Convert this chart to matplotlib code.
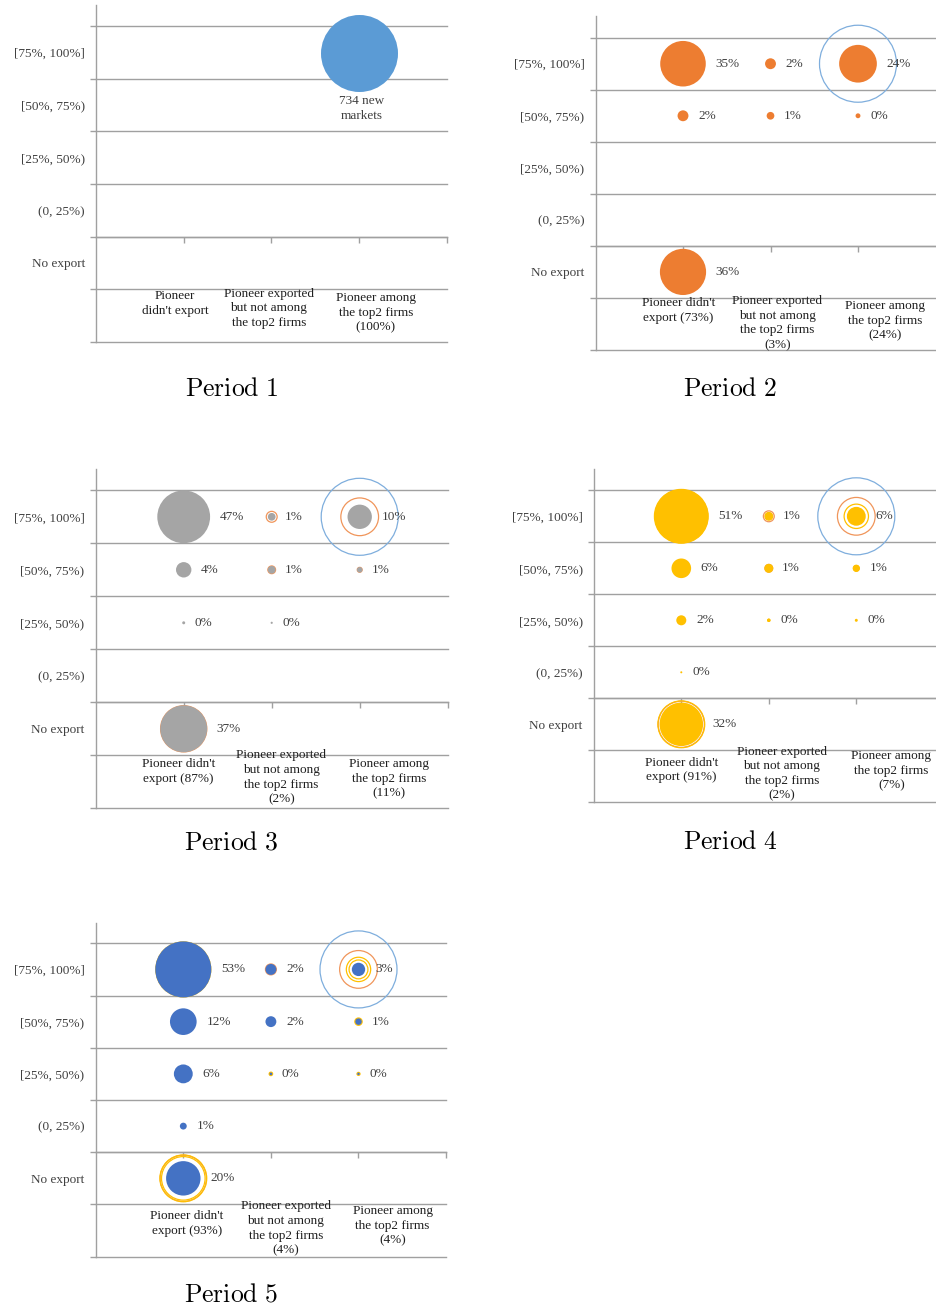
import numpy as np
import matplotlib
matplotlib.use('Agg')
import matplotlib.pyplot as plt

plt.rcParams['font.family'] = ['Liberation Serif', 'DejaVu Serif']
plt.rcParams['mathtext.fontset'] = 'cm'

W, H = 937, 1308

row_labels = ['No export', '(0, 25%)', '[25%, 50%)', '[50%, 75%)', '[75%, 100%]']

# column: 1 = pioneer didn't export, 2 = exported but not top2, 3 = among top2
# row: 0 = no export ... 4 = [75%, 100%]; value = share of markets in %
p1_col = [3]
p1_row = [4]
p1_val = [100]
p1_lab = ['734 new\nmarkets']

p2_col = [1, 1, 1, 2, 2, 3, 3]
p2_row = [4, 3, 0, 4, 3, 4, 3]
p2_val = [35, 2, 36, 2, 1, 24, 0.4]
p2_lab = ['35%', '2%', '36%', '2%', '1%', '24%', '0%']

p3_col = [1, 1, 1, 1, 2, 2, 2, 3, 3]
p3_row = [4, 3, 2, 0, 4, 3, 2, 4, 3]
p3_val = [47, 4, 0.15, 37, 1, 1, 0.08, 10, 0.5]
p3_lab = ['47%', '4%', '0%', '37%', '1%', '1%', '0%', '10%', '1%']

p4_col = [1, 1, 1, 1, 1, 2, 2, 2, 3, 3, 3]
p4_row = [4, 3, 2, 1, 0, 4, 3, 2, 4, 3, 2]
p4_val = [51, 6.5, 1.7, 0.07, 32, 1, 0.9, 0.2, 6, 0.9, 0.15]
p4_lab = ['51%', '6%', '2%', '0%', '32%', '1%', '1%', '0%', '6%', '1%', '0%']

p5_col = [1, 1, 1, 1, 1, 2, 2, 2, 3, 3, 3]
p5_row = [4, 3, 2, 1, 0, 4, 3, 2, 4, 3, 2]
p5_val = [53, 12, 6, 0.8, 20, 2, 2, 0.12, 3, 0.7, 0.1]
p5_lab = ['53%', '12%', '6%', '1%', '20%', '2%', '2%', '0%', '3%', '1%', '0%']

cat_p1 = ["Pioneer\ndidn't export", "Pioneer exported\nbut not among\nthe top2 firms",
          "Pioneer among\nthe top2 firms\n(100%)"]
cat_p2 = ["Pioneer didn't\nexport (73%)", "Pioneer exported\nbut not among\nthe top2 firms\n(3%)",
          "Pioneer among\nthe top2 firms\n(24%)"]
cat_p3 = ["Pioneer didn't\nexport (87%)", "Pioneer exported\nbut not among\nthe top2 firms\n(2%)",
          "Pioneer among\nthe top2 firms\n(11%)"]
cat_p4 = ["Pioneer didn't\nexport (91%)", "Pioneer exported\nbut not among\nthe top2 firms\n(2%)",
          "Pioneer among\nthe top2 firms\n(7%)"]
cat_p5 = ["Pioneer didn't\nexport (93%)", "Pioneer exported\nbut not among\nthe top2 firms\n(4%)",
          "Pioneer among\nthe top2 firms\n(4%)"]

periods = [
    (p1_col, p1_row, p1_val, p1_lab, cat_p1),
    (p2_col, p2_row, p2_val, p2_lab, cat_p2),
    (p3_col, p3_row, p3_val, p3_lab, cat_p3),
    (p4_col, p4_row, p4_val, p4_lab, cat_p4),
    (p5_col, p5_row, p5_val, p5_lab, cat_p5),
]

fill_colors = ['#5B9BD5', '#ED7D31', '#A5A5A5', '#FFC000', '#4472C4']
ring_colors = ['#7FAEDD', '#F0955A', '#FFC000', '#FFC000']
grid_col = '#A0A0A0'
txt_col = '#404040'

# panel geometry in pixels: x of x=0, px per column, y of 4.5 line, y of -1.5 line, top of axis
geo = [
    (96.0, 87.7, 26.3, 341.7, 5.0),
    (595.5, 87.5, 37.7, 350.0, 16.0),
    (95.7, 88.0, 490.3, 808.3, 469.3),
    (593.8, 87.5, 490.3, 802.3, 469.3),
    (95.7, 87.6, 943.3, 1256.7, 922.7),
]
# category label positions (x centre, y top) per panel
cat_pos = [
    ([0.90, 1.97, 3.19], [-0.52, -0.47, -0.56]),
    ([0.95, 2.08, 3.31], [-0.49, -0.44, -0.54]),
    ([0.94, 2.11, 3.33], [-0.56, -0.39, -0.55]),
    ([1.00, 2.15, 3.40], [-0.62, -0.41, -0.50]),
    ([1.04, 2.17, 3.39], [-0.61, -0.42, -0.51]),
]
captions = [(231.5, 396), (730.5, 396), (231.5, 849), (730.5, 849), (231.5, 1302)]

# bubble area: 100% -> 77 px diameter
S100 = (77 * 72 / 100.0) ** 2


def size(v):
    return S100 * np.asarray(v, dtype=float) / 100.0


fig = plt.figure(figsize=(W / 100, H / 100), dpi=100, facecolor='white')

for k, (cols, rows, vals, labs, cats) in enumerate(periods):
    x0, unit, y45, ym15, top = geo[k]
    rowh = (ym15 - y45) / 6.0
    ax = fig.add_axes([x0 / W, 1 - ym15 / H, 4 * unit / W, (ym15 - top) / H])
    ax.set_xlim(0, 4)
    ax.set_ylim(-1.5, 4.5 + (y45 - top) / rowh)
    ax.patch.set_alpha(0)

    for s in ['top', 'right']:
        ax.spines[s].set_visible(False)
    ax.spines['left'].set_color(grid_col)
    ax.spines['left'].set_linewidth(1.0)
    ax.spines['bottom'].set_position(('data', 0.5))
    ax.spines['bottom'].set_color(grid_col)
    ax.spines['bottom'].set_linewidth(1.0)

    ax.set_xticks([1, 2, 3, 4])
    ax.set_xticklabels([])
    ax.tick_params(axis='x', length=4, width=1.0, color=grid_col, direction='out')

    ax.set_yticks(range(5))
    ax.set_yticklabels(row_labels, fontsize=9.5, color=txt_col)
    ax.tick_params(axis='y', which='major', length=0, pad=8)
    for t in ax.get_yticklabels():
        t.set_va('center_baseline')
    ax.set_yticks(np.arange(-1.5, 5, 1.0), minor=True)
    ax.tick_params(axis='y', which='minor', length=4, width=1.0, color=grid_col)
    ax.grid(True, which='minor', axis='y', color=grid_col, linewidth=1.0, zorder=0)
    for tk in ax.yaxis.get_minor_ticks():
        tk.gridline.set_clip_on(False)

    # outlines of the earlier periods, oldest first, under the current bubbles
    for j in range(k):
        pc, pr, pv = periods[j][0], periods[j][1], periods[j][2]
        ax.scatter(pc, pr, s=size(pv), facecolors='none', edgecolors=ring_colors[j],
                   linewidths=0.9, zorder=2, clip_on=False)

    ax.scatter(cols, rows, s=size(vals), color=fill_colors[k], linewidths=0, zorder=3,
               clip_on=False)

    for c, r, v, lab in zip(cols, rows, vals, labs):
        rad = np.sqrt(size(v)) / 2
        if k == 0:
            ax.annotate(lab, (c, r), xytext=(2, -rad - 3), textcoords='offset points',
                        ha='center', va='top', fontsize=9.5, color=txt_col, linespacing=1.3)
        else:
            ax.annotate(lab, (c, r), xytext=(rad + 7, 0), textcoords='offset points',
                        ha='left', va='center', fontsize=9.5, color=txt_col, zorder=4)

    xs, ys = cat_pos[k]
    for xc, yc, t in zip(xs, ys, cats):
        ax.text(xc, yc, t, ha='center', va='top', fontsize=9.5, color='#1f1f1f',
                linespacing=1.3, clip_on=False)

    cx, cy = captions[k]
    fig.text(cx / W, 1 - cy / H, r'$\mathrm{Period\ %d}$' % (k + 1), fontsize=18.5,
             ha='center', va='baseline')

fig.savefig('out.png', dpi=100, facecolor='white')
